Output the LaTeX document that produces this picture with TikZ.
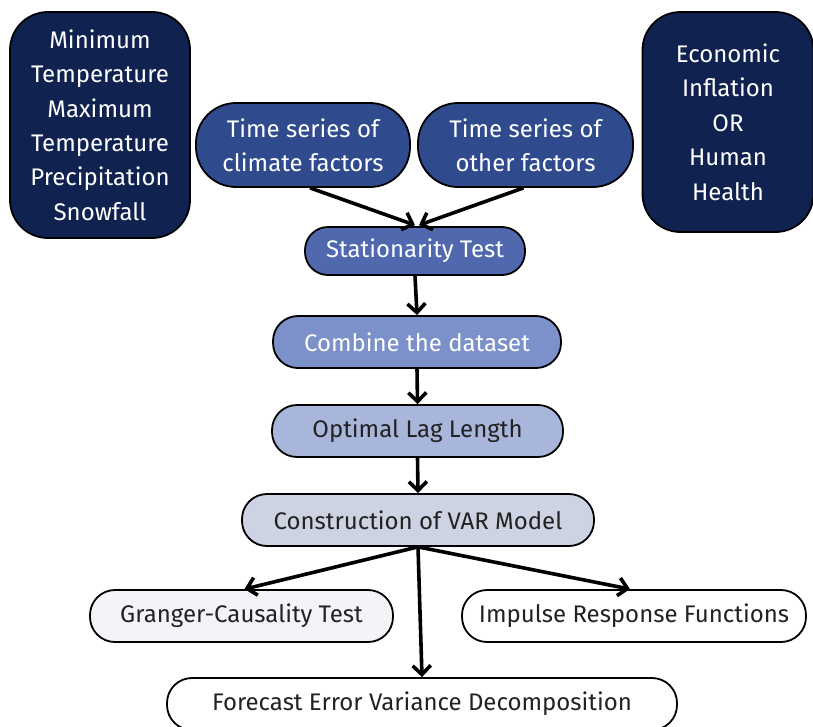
\documentclass[tikz,border=0pt]{standalone}
\usepackage{fontspec}
\setmainfont{Fira Sans}
\usetikzlibrary{arrows.meta,calc}
\definecolor{navy}{HTML}{10224F}
\definecolor{cA}{HTML}{2F4A8D}
\definecolor{cB}{HTML}{5068AE}
\definecolor{cC}{HTML}{7C90C9}
\definecolor{cD}{HTML}{A9B6DB}
\definecolor{cE}{HTML}{CED3E3}
\definecolor{cF}{HTML}{F3F4F7}
\definecolor{txtd}{HTML}{222222}
\tikzset{
  box/.style={draw=black,line width=1.8pt,align=center,inner sep=0pt,
    font=\fontsize{24}{34.4}\selectfont},
  pill/.style={box,rounded corners=25pt,minimum height=52pt},
  conn/.style={line width=3.6pt,-{Straight Barb[length=9pt,width=18pt,line width=3.6pt]}}
}
\begin{document}
\begin{tikzpicture}[x=1pt,y=-1pt]
\useasboundingbox (0,0) rectangle (813,726);
\node[box,fill=navy,text=white,rounded corners=38pt,minimum width=180pt,minimum height=226pt] (clim list) at (100,125)
  {Minimum\\Temperature\\Maximum\\Temperature\\Precipitation\\Snowfall};
\node[box,fill=navy,text=white,rounded corners=38pt,minimum width=171pt,minimum height=220pt] (other list) at (728,122)
  {Economic\\Inflation\\OR\\Human\\Health};
\node[box,fill=cA,text=white,rounded corners=40pt,minimum width=214pt,minimum height=84pt] (clim) at (303,145)
  {Time series of\\climate factors};
\node[box,fill=cA,text=white,rounded corners=40pt,minimum width=215pt,minimum height=84pt] (oth) at (525.5,145)
  {Time series of\\other factors};
\node[pill,fill=cB,text=white,minimum width=220pt,minimum height=48pt,rounded corners=23pt] (stat) at (415,251) {Stationarity Test};
\node[pill,fill=cC,text=white,minimum width=288pt] (comb) at (417,342) {Combine the dataset};
\node[pill,fill=cD,text=txtd,minimum width=291pt] (lag) at (417.5,431) {Optimal Lag Length};
\node[pill,fill=cE,text=txtd,minimum width=352pt] (cons) at (418,520) {Construction of VAR Model};
\node[pill,fill=cF,text=txtd,minimum width=303pt] (gran) at (241.5,616) {Granger-Causality Test};
\node[pill,fill=white,text=txtd,minimum width=344pt] (imp) at (634,616) {Impulse Response Functions};
\node[pill,fill=white,text=txtd,minimum width=510pt] (fev) at (422,704) {Forecast Error Variance Decomposition};
\draw[conn] ($(clim.south)+(7,0)$) -- ($(stat.north)+(0,-1)$);
\draw[conn] ($(oth.south)+(-2,0)$) -- ($(stat.north)+(4,-1)$);
\draw[conn] (stat.south) -- (comb.north);
\draw[conn] (comb.south) -- (lag.north);
\draw[conn] (lag.south) -- (cons.north);
\draw[conn] (cons.south) -- ($(gran.north)+(3,0)$);
\draw[conn] (cons.south) -- ($(imp.north)+(-4,0)$);
\draw[conn] (cons.south) -- (fev.north);
\end{tikzpicture}
\end{document}
